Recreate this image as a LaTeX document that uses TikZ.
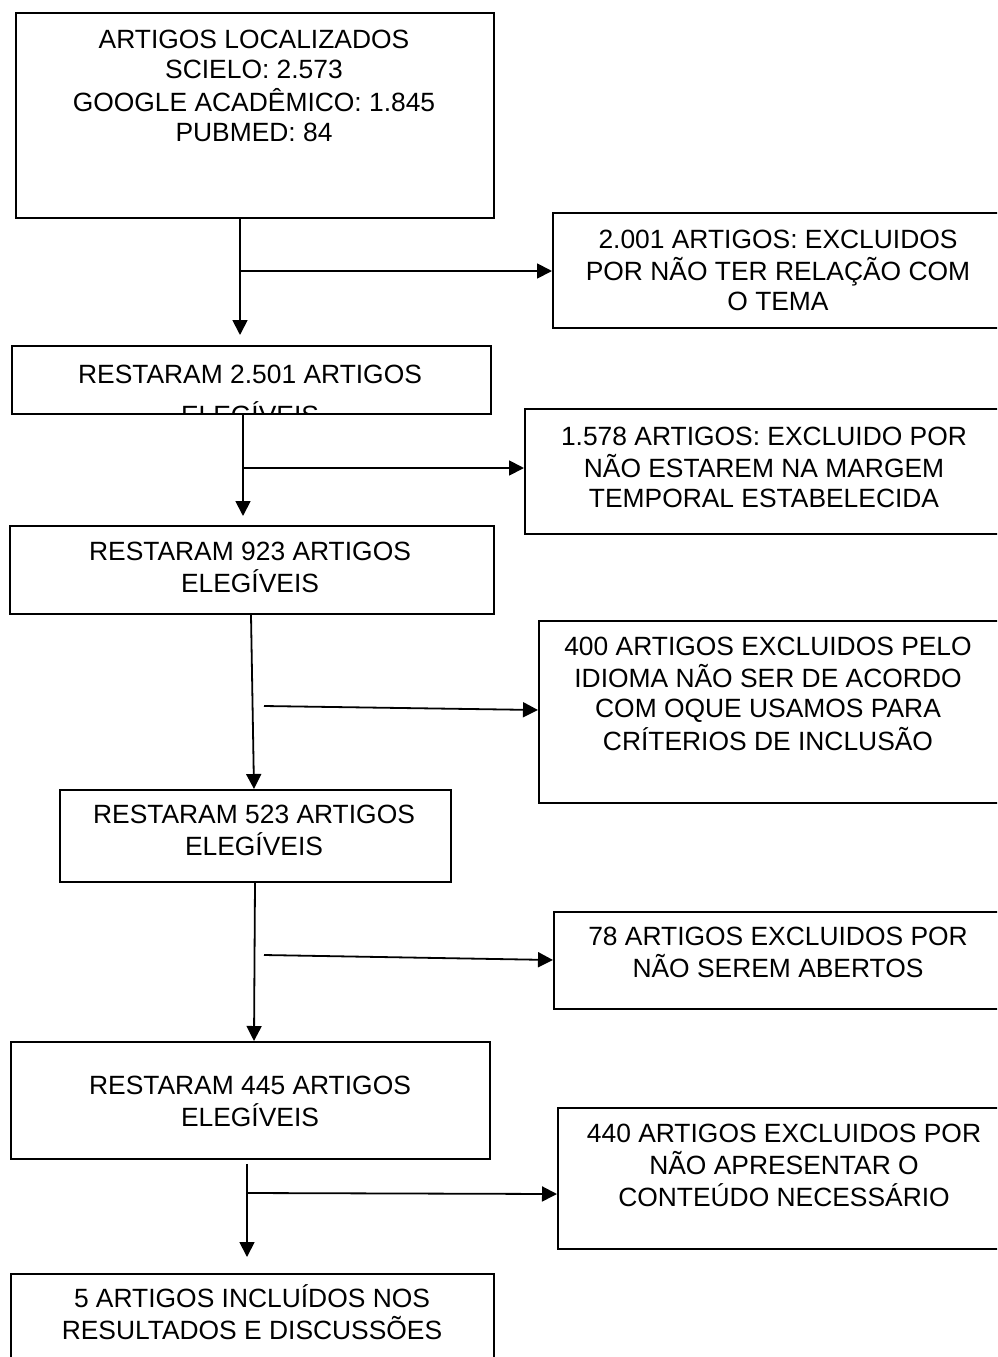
\documentclass[tikz,border=0pt]{standalone}
\usepackage{fontspec}
\setmainfont{Liberation Sans}
\usetikzlibrary{arrows.meta}
\tikzset{
  box/.style={draw, line width=1.8pt, inner sep=0pt, anchor=north west},
  txt/.style={anchor=base, inner sep=0pt, font=\fontsize{26.4}{30.4}\selectfont},
  arr/.style={line width=1.8pt, -{Triangle[length=15pt,width=15pt]}},
  plain/.style={line width=1.8pt}
}
\newcommand{\ml}[1]{\begin{tabular}[t]{@{}c@{}}#1\end{tabular}}
\begin{document}
\begin{tikzpicture}[x=1pt,y=-1pt]
\path[use as bounding box] (0,0) rectangle (997,1357);
\clip (0,0) rectangle (997,1357);
% boxes
\node[box, minimum width=478pt, minimum height=205pt] (n1) at (15,12) {};
\node[box, minimum width=460pt, minimum height=115pt] (r1) at (552,212) {};
\node[box, minimum width=479pt, minimum height=68pt] (n2) at (11,345) {};
\node[box, minimum width=490pt, minimum height=125pt] (r2) at (524,408) {};
\node[box, minimum width=484pt, minimum height=88pt] (n3) at (9,525) {};
\node[box, minimum width=475pt, minimum height=182pt] (r3) at (538,620) {};
\node[box, minimum width=391pt, minimum height=92pt] (n4) at (59,789) {};
\node[box, minimum width=460pt, minimum height=97pt] (r4) at (553,911) {};
\node[box, minimum width=479pt, minimum height=117pt] (n5) at (10,1041) {};
\node[box, minimum width=455pt, minimum height=141pt] (r5) at (557,1107) {};
\node[box, minimum width=483pt, minimum height=110pt] (n6) at (10,1273) {};
% texts
\node[txt] (t1) at (254,48.5) {\ml{ARTIGOS LOCALIZADOS\\SCIELO: 2.573\\GOOGLE ACADÊMICO: 1.845\\PUBMED: 84}};
\node[txt] (tr1) at (778,248) {\ml{2.001 ARTIGOS: EXCLUIDOS\\POR NÃO TER RELAÇÃO COM\\O TEMA}};
\begin{scope}
\clip (n2.north west) rectangle ([yshift=2.5pt]n2.south east);
\node[txt] (t2) at (250,383) {\ml{RESTARAM 2.501 ARTIGOS\\[9pt]ELEGÍVEIS}};
\end{scope}
\node[txt] (tr2) at (764,445) {\ml{1.578 ARTIGOS: EXCLUIDO POR\\NÃO ESTAREM NA MARGEM\\TEMPORAL ESTABELECIDA}};
\node[txt] (t3) at (250,560) {\ml{RESTARAM 923 ARTIGOS\\ELEGÍVEIS}};
\node[txt] (tr3) at (768,655) {\ml{400 ARTIGOS EXCLUIDOS PELO\\IDIOMA NÃO SER DE ACORDO\\COM OQUE USAMOS PARA\\CRÍTERIOS DE INCLUSÃO}};
\node[txt] (t4) at (254,823) {\ml{RESTARAM 523 ARTIGOS\\ELEGÍVEIS}};
\node[txt] (tr4) at (778,945) {\ml{78 ARTIGOS EXCLUIDOS POR\\NÃO SEREM ABERTOS}};
\node[txt] (t5) at (250,1094) {\ml{RESTARAM 445 ARTIGOS\\ELEGÍVEIS}};
\node[txt] (tr5) at (784,1142) {\ml{440 ARTIGOS EXCLUIDOS POR\\NÃO APRESENTAR O\\CONTEÚDO NECESSÁRIO}};
\node[txt] (t6) at (252,1307) {\ml{5 ARTIGOS INCLUÍDOS NOS\\RESULTADOS E DISCUSSÕES}};
% connector coordinates
\coordinate (v1) at (240,0);
\coordinate (v2) at (243,0);
\coordinate (v3a) at (251,0);
\coordinate (v3b) at (254,0);
\coordinate (v4a) at (255,0);
\coordinate (v4b) at (254,0);
\coordinate (v5) at (247,0);
\coordinate (h1) at (240,271);
\coordinate (h2) at (243,468);
\coordinate (h3) at (264,706);
\coordinate (h4) at (264,955);
\coordinate (h5) at (247,1193);
% vertical arrows
\draw[arr, shorten >=10pt] (n1.south -| v1) -- (n2.north -| v1);
\draw[arr, shorten >=9pt] (n2.south -| v2) -- (n3.north -| v2);
\draw[arr] (n3.south -| v3a) -- (n4.north -| v3b);
\draw[arr] (n4.south -| v4a) -- (n5.north -| v4b);
\draw[arr, shorten <=4pt, shorten >=16pt] (n5.south -| v5) -- (n6.north -| v5);
% horizontal arrows
\draw[arr] (h1) -- (h1 -| r1.west);
\draw[arr] (h2) -- (h2 -| r2.west);
\draw[arr] (h3) -- ([yshift=-4pt]h3 -| r3.west);
\draw[arr] (h4) -- ([yshift=-5pt]h4 -| r4.west);
\draw[arr] (h5) -- ([yshift=-1pt]h5 -| r5.west);
\end{tikzpicture}
\end{document}
